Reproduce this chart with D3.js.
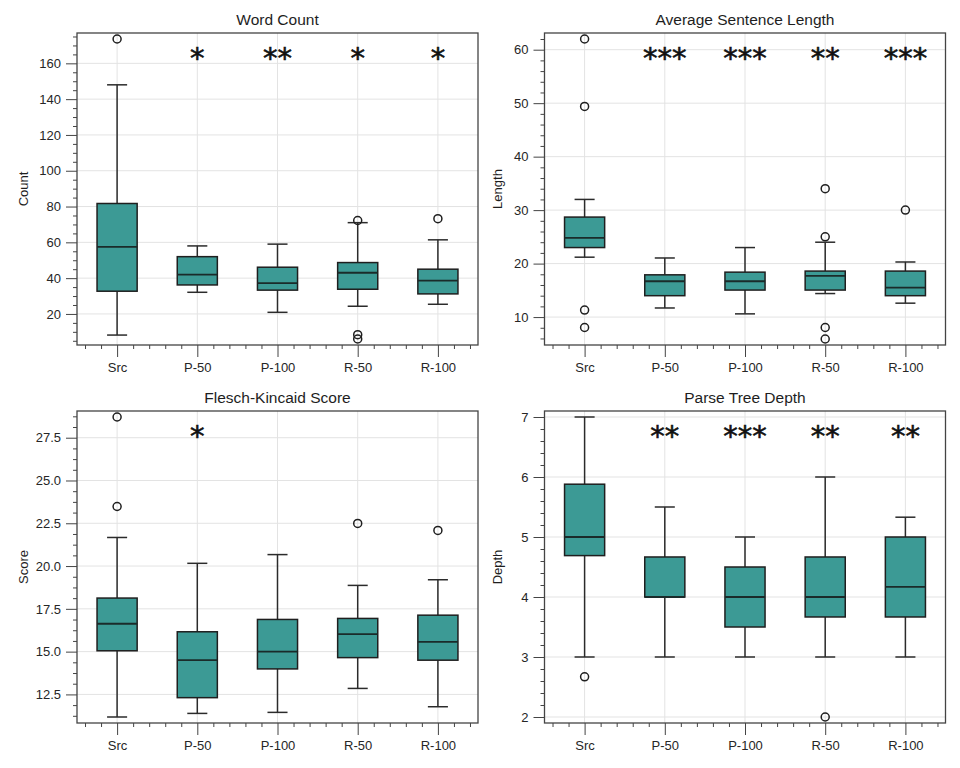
<!DOCTYPE html>
<html>
  <head>
    <style>
      body {
        margin: 0;
        background: #fff;
        font-family: "Liberation Sans", Arial, sans-serif;
      }
      .grid line { stroke: #e3e3e3; stroke-width: 1px; }
      .frame { fill: none; stroke: #444; stroke-width: 1.3px; }
      .axis path { display: none; }
      .axis line { stroke: #444; stroke-width: 1px; }
      .axis text { fill: #262626; font-size: 13px; font-family: "Liberation Sans", Arial, sans-serif; }
      .whisker { stroke: #2b2b2b; stroke-width: 1.5px; }
      .box { fill: #3c9a95; stroke: #1f1f1f; stroke-width: 1.5px; }
      .median { stroke: #1a2b2a; stroke-width: 1.8px; }
      .outlier { fill: none; stroke: #1f1f1f; stroke-width: 1.5px; }
      .title { font-size: 15.5px; fill: #1e1e1e; text-anchor: middle; }
      .ylabel { font-size: 13px; fill: #1e1e1e; text-anchor: middle; }
      .stars { font-family: "DejaVu Sans", sans-serif; font-weight: normal; font-size: 29px; fill: #111; stroke: #111; stroke-width: 0.6px; text-anchor: middle; }
    </style>
  </head>
  <body>
    <script src="https://d3js.org/d3.v7.min.js"></script>
    <script>
      // categories shared by all four panels
      var categories = ["Src", "P-50", "P-100", "R-50", "R-100"];

      // box stats per category: [lower whisker, Q1, median, Q3, upper whisker]
      var wordCountStats = [[8.2, 32.7, 57.5, 81.7, 148], [32.1, 36.2, 42, 52, 58], [20.9, 33.3, 37.2, 46.1, 59], [24.3, 33.8, 43, 48.7, 71], [25.4, 31.2, 38.6, 45, 61.4]];
      var wordCountOutliers = [[173.6], [], [], [72.2, 8.4, 6], [73.2]];
      var wordCountStars = ["", "*", "**", "*", "*"];
      var wordCountTicks = [20, 40, 60, 80, 100, 120, 140, 160];

      var sentLenStats = [[21.2, 23.0, 24.8, 28.7, 32], [11.7, 14.0, 16.7, 17.9, 21.05], [10.6, 15.05, 16.7, 18.4, 23.0], [14.4, 15.05, 17.7, 18.6, 24.0], [12.6, 14.0, 15.5, 18.6, 20.3]];
      var sentLenOutliers = [[62.0, 49.4, 11.3, 8.05], [], [], [34.0, 25.0, 8.05, 5.9], [30.0]];
      var sentLenStars = ["", "***", "***", "**", "***"];
      var sentLenTicks = [10, 20, 30, 40, 50, 60];

      var fleschStats = [[11.18, 15.05, 16.63, 18.13, 21.67], [11.39, 12.31, 14.5, 16.16, 20.16], [11.45, 13.99, 15.0, 16.88, 20.67], [12.85, 14.65, 16.02, 16.94, 18.87], [11.78, 14.5, 15.57, 17.13, 19.2]];
      var fleschOutliers = [[28.71, 23.48], [], [], [22.49], [22.08]];
      var fleschStars = ["", "*", "", "", ""];
      var fleschTicks = [12.5, 15.0, 17.5, 20.0, 22.5, 25.0, 27.5];

      var depthStats = [[3, 4.69, 5, 5.88, 7], [3, 4, 4, 4.667, 5.5], [3, 3.5, 4, 4.5, 5], [3, 3.667, 4, 4.667, 6], [3, 3.667, 4.17, 5, 5.33]];
      var depthOutliers = [[2.67], [], [], [2], []];
      var depthStars = ["", "**", "***", "**", "**"];
      var depthTicks = [2, 3, 4, 5, 6, 7];

      var panels = [
        {title: "Word Count", ylabel: "Count", stats: wordCountStats, outliers: wordCountOutliers, stars: wordCountStars, ticks: wordCountTicks, fmt: d3.format("d"), minorDiv: 4, col: 0, row: 0},
        {title: "Average Sentence Length", ylabel: "Length", stats: sentLenStats, outliers: sentLenOutliers, stars: sentLenStars, ticks: sentLenTicks, fmt: d3.format("d"), minorDiv: 5, col: 1, row: 0},
        {title: "Flesch-Kincaid Score", ylabel: "Score", stats: fleschStats, outliers: fleschOutliers, stars: fleschStars, ticks: fleschTicks, fmt: d3.format(".1f"), minorDiv: 4, col: 0, row: 1},
        {title: "Parse Tree Depth", ylabel: "Depth", stats: depthStats, outliers: depthOutliers, stars: depthStars, ticks: depthTicks, fmt: d3.format("d"), minorDiv: 5, col: 1, row: 1}
      ];

      var colX = [77, 544.5], rowY = [33, 411];
      var pw = 401, ph = 312;
      var ylabelX = [24, 498];

      var svg = d3.select("body").append("svg")
        .attr("width", 960)
        .attr("height", 768);

      panels.forEach(function(p) {
        var x0 = colX[p.col], y0 = rowY[p.row];
        var g = svg.append("g").attr("transform", "translate(" + x0 + "," + y0 + ")");

        // y domain = data extent plus a small margin
        var all = d3.merge(p.stats).concat(d3.merge(p.outliers));
        var lo = d3.min(all), hi = d3.max(all), pad = (hi - lo) * 0.02;
        var y = d3.scaleLinear().domain([lo - pad, hi + pad]).range([ph, 0]);
        var x = d3.scalePoint().domain(categories).range([0, pw]).padding(0.5);
        var xi = d3.scaleLinear().domain([-0.5, categories.length - 0.5]).range([0, pw]);
        var step = x.step();

        // grid
        var grid = g.append("g").attr("class", "grid");
        grid.selectAll(".hg").data(p.ticks).enter().append("line")
          .attr("x1", 0).attr("x2", pw)
          .attr("y1", d => y(d)).attr("y2", d => y(d));
        grid.selectAll(".vg").data(categories).enter().append("line")
          .attr("y1", 0).attr("y2", ph)
          .attr("x1", d => x(d)).attr("x2", d => x(d));

        // boxes
        var bw = step * 0.5, cw = step * 0.25;
        var b = g.selectAll(".bx").data(p.stats).enter().append("g")
          .attr("transform", (d, i) => "translate(" + x(categories[i]) + ",0)");
        b.append("line").attr("class", "whisker")
          .attr("x1", 0).attr("x2", 0).attr("y1", d => y(d[0])).attr("y2", d => y(d[1]));
        b.append("line").attr("class", "whisker")
          .attr("x1", 0).attr("x2", 0).attr("y1", d => y(d[3])).attr("y2", d => y(d[4]));
        b.append("line").attr("class", "whisker")
          .attr("x1", -cw / 2).attr("x2", cw / 2).attr("y1", d => y(d[0])).attr("y2", d => y(d[0]));
        b.append("line").attr("class", "whisker")
          .attr("x1", -cw / 2).attr("x2", cw / 2).attr("y1", d => y(d[4])).attr("y2", d => y(d[4]));
        b.append("rect").attr("class", "box")
          .attr("x", -bw / 2).attr("width", bw)
          .attr("y", d => y(d[3])).attr("height", d => y(d[1]) - y(d[3]));
        b.append("line").attr("class", "median")
          .attr("x1", -bw / 2).attr("x2", bw / 2).attr("y1", d => y(d[2])).attr("y2", d => y(d[2]));

        // outliers
        p.outliers.forEach(function(list, i) {
          g.selectAll(null).data(list).enter().append("circle")
            .attr("class", "outlier")
            .attr("cx", x(categories[i]))
            .attr("cy", d => y(d))
            .attr("r", 4);
        });

        // significance stars
        var fs = 29;
        g.selectAll(".stars").data(p.stars).enter().append("text")
          .attr("class", "stars")
          .attr("x", (d, i) => x(categories[i]))
          .attr("y", ph * 0.056 + fs * 0.6)
          .text(d => d);

        // frame
        g.append("rect").attr("class", "frame").attr("width", pw).attr("height", ph);

        // axes: major
        g.append("g").attr("class", "axis")
          .attr("transform", "translate(0," + ph + ")")
          .call(d3.axisBottom(x).tickSize(12).tickPadding(6));
        g.append("g").attr("class", "axis")
          .call(d3.axisLeft(y).tickValues(p.ticks).tickFormat(p.fmt).tickSize(11).tickPadding(5));

        // axes: minor ticks
        var xMinor = d3.range(-0.4, categories.length - 0.5, 0.2)
          .filter(v => Math.abs(v - Math.round(v)) > 1e-6);
        g.append("g").attr("class", "axis")
          .attr("transform", "translate(0," + ph + ")")
          .call(d3.axisBottom(xi).tickValues(xMinor).tickSize(4).tickFormat(""));
        var mstep = (p.ticks[1] - p.ticks[0]) / p.minorDiv;
        var d = y.domain();
        var yMinor = [];
        for (var v = p.ticks[0] - Math.floor((p.ticks[0] - d[0]) / mstep) * mstep; v <= d[1]; v += mstep) {
          var k = (v - p.ticks[0]) / mstep;
          if (Math.abs(k / p.minorDiv - Math.round(k / p.minorDiv)) > 1e-6) yMinor.push(v);
        }
        g.append("g").attr("class", "axis")
          .call(d3.axisLeft(y).tickValues(yMinor).tickSize(4).tickFormat(""));

        // labels
        g.append("text").attr("class", "title")
          .attr("x", pw / 2).attr("y", -8).text(p.title);
        svg.append("text").attr("class", "ylabel")
          .attr("transform", "translate(" + (ylabelX[p.col] + 4) + "," + (y0 + ph / 2) + ") rotate(-90)")
          .text(p.ylabel);
      });
    </script>
  </body>
</html>
